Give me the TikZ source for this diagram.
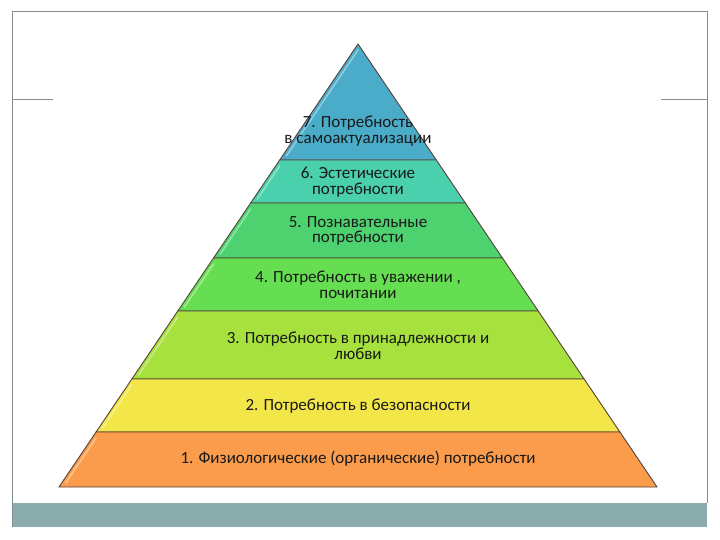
\documentclass[tikz,border=0pt]{standalone}
\usepackage{fontspec}
\setmainfont{Carlito}
\usetikzlibrary{calc}
\definecolor{lvlseven}{RGB}{74,172,200}
\definecolor{lvlsix}{RGB}{74,208,172}
\definecolor{lvlfive}{RGB}{78,210,112}
\definecolor{lvlfour}{RGB}{102,222,82}
\definecolor{lvlthree}{RGB}{166,225,62}
\definecolor{lvltwo}{RGB}{243,230,72}
\definecolor{lvlone}{RGB}{250,156,76}
\definecolor{edgedark}{RGB}{84,66,56}
\definecolor{framegrey}{RGB}{130,142,142}
\definecolor{footerband}{RGB}{138,172,172}
\tikzset{
    layerfill/.style={draw=edgedark, line width=0.9pt, line join=round},
    layergloss/.style={draw=white, opacity=0.4, line width=1.5pt, line cap=round},
    layertext/.style={align=center, font=\fontsize{17}{15.5}\selectfont, text=black!90},
    framerule/.style={draw=framegrey, line width=1pt}
}

\begin{document}
\begin{tikzpicture}[x=1pt, y=-1pt]
    \useasboundingbox (0,0) rectangle (720,540);

    % Slide frame
    \fill[footerband] (12,503) rectangle (707,527);
    \draw[framerule] (12,527) -- (12,12) -- (707,12) -- (707,503);
    \draw[framerule] (12,100) -- (53,100);
    \draw[framerule] (661,100) -- (707,100);

    % Pyramid layers: top/bottom/colour
    \foreach \t/\b/\c in {44/160/lvlseven, 160/203/lvlsix, 203/258/lvlfive,
                          258/311/lvlfour, 311/379/lvlthree, 379/432/lvltwo, 432/487/lvlone}{
        \draw[layerfill, fill=\c] ({358-0.675*(\t-44)},\t) -- ({358+0.675*(\t-44)},\t)
            -- ({358+0.675*(\b-44)},\b) -- ({358-0.675*(\b-44)},\b) -- cycle;
        \draw[layergloss] ({358-0.675*(\t-44+6)+4},{\t+6}) -- ({358-0.675*(\b-44-4)+4},{\b-4});
    }

    % Labels
    \node[layertext] (lvl7) at (358,131) {7. Потребность\\в самоактуализации};
    \node[layertext] (lvl6) at (358,182) {6. Эстетические\\потребности};
    \node[layertext] (lvl5) at (358,231) {5. Познавательные\\потребности};
    \node[layertext] (lvl4) at (358,285) {4. Потребность в уважении ,\\почитании};
    \node[layertext] (lvl3) at (358,346) {3. Потребность в принадлежности и\\любви};
    \node[layertext] (lvl2) at (358,406) {2. Потребность в безопасности};
    \node[layertext] (lvl1) at (358,459) {1. Физиологические (органические) потребности};
\end{tikzpicture}
\end{document}
